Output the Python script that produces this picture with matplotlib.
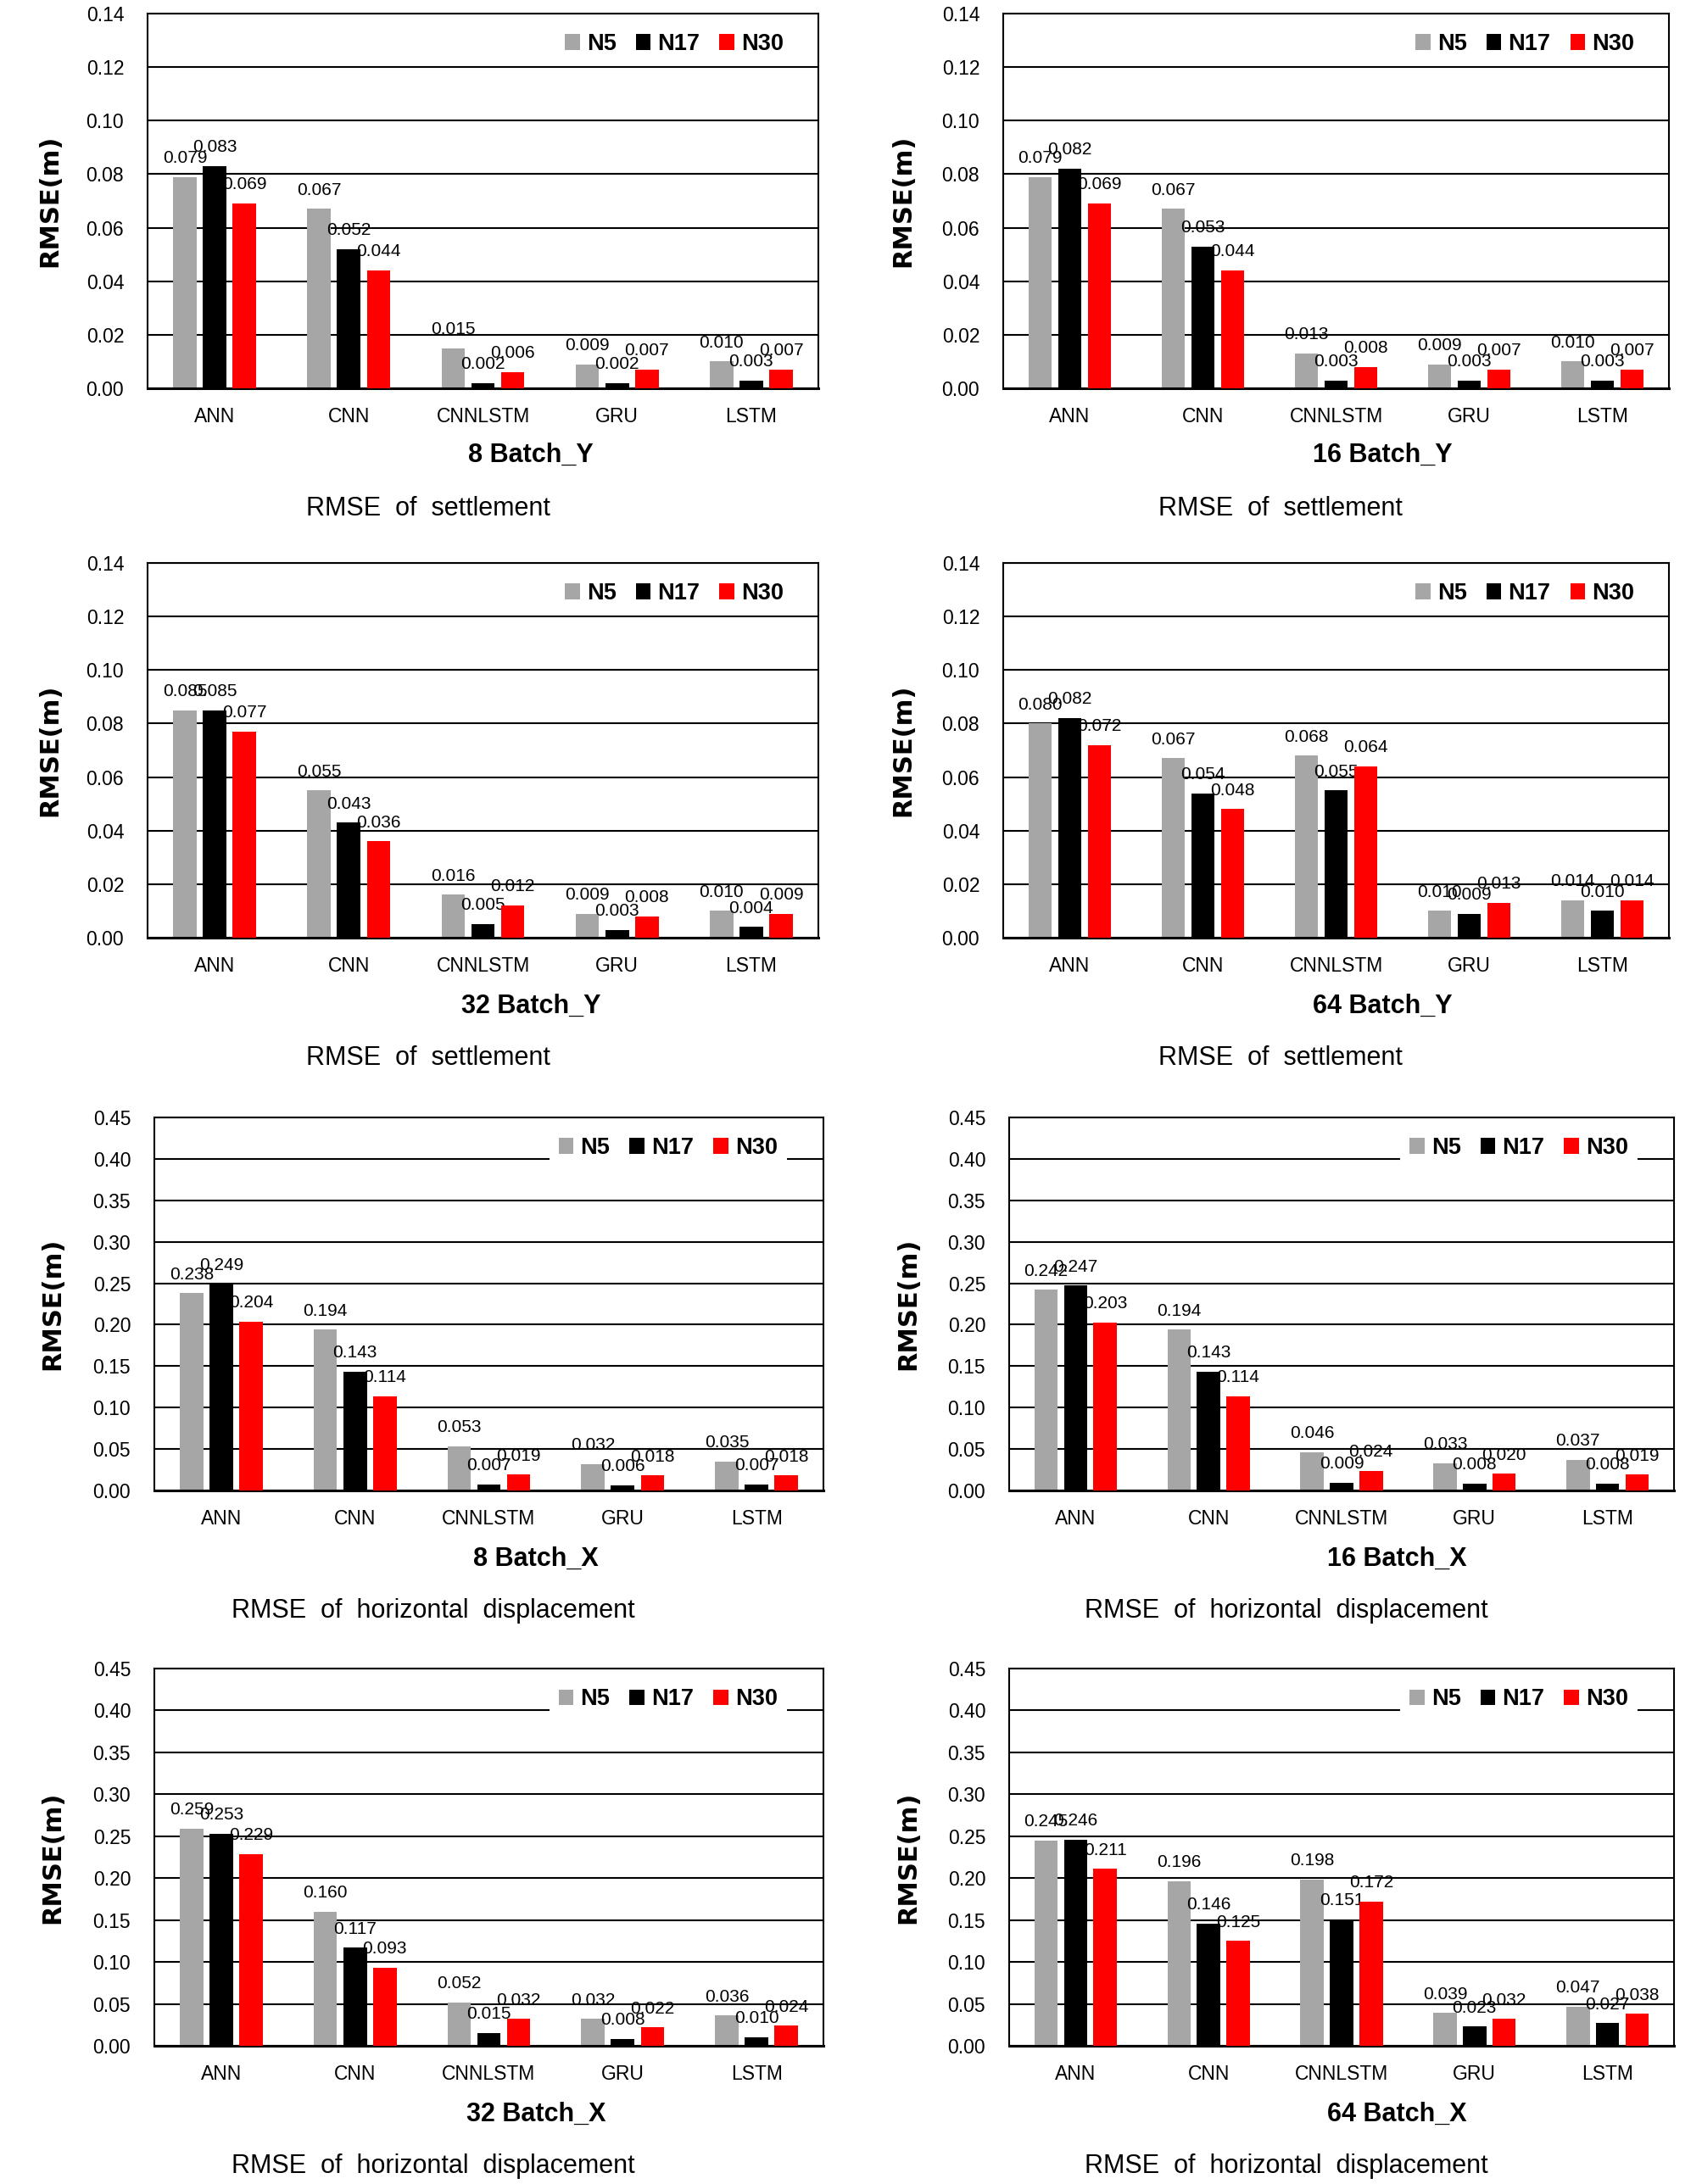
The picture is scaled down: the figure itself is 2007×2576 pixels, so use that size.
import matplotlib.pyplot as plt
import numpy as np

W, H = 2008, 2576

plt.rcParams["font.family"] = ["Liberation Sans", "DejaVu Sans"]

models = ["ANN", "CNN", "CNNLSTM", "GRU", "LSTM"]
series = ["N5", "N17", "N30"]
colors = ["#A6A6A6", "#000000", "#FF0000"]

# each panel: rows are N5, N17, N30; columns follow `models`
batch8_y = [[0.079, 0.067, 0.015, 0.009, 0.010],
            [0.083, 0.052, 0.002, 0.002, 0.003],
            [0.069, 0.044, 0.006, 0.007, 0.007]]
batch16_y = [[0.079, 0.067, 0.013, 0.009, 0.010],
             [0.082, 0.053, 0.003, 0.003, 0.003],
             [0.069, 0.044, 0.008, 0.007, 0.007]]
batch32_y = [[0.085, 0.055, 0.016, 0.009, 0.010],
             [0.085, 0.043, 0.005, 0.003, 0.004],
             [0.077, 0.036, 0.012, 0.008, 0.009]]
batch64_y = [[0.080, 0.067, 0.068, 0.010, 0.014],
             [0.082, 0.054, 0.055, 0.009, 0.010],
             [0.072, 0.048, 0.064, 0.013, 0.014]]
batch8_x = [[0.238, 0.194, 0.053, 0.032, 0.035],
            [0.249, 0.143, 0.007, 0.006, 0.007],
            [0.204, 0.114, 0.019, 0.018, 0.018]]
batch16_x = [[0.242, 0.194, 0.046, 0.033, 0.037],
             [0.247, 0.143, 0.009, 0.008, 0.008],
             [0.203, 0.114, 0.024, 0.020, 0.019]]
batch32_x = [[0.259, 0.160, 0.052, 0.032, 0.036],
             [0.253, 0.117, 0.015, 0.008, 0.010],
             [0.229, 0.093, 0.032, 0.022, 0.024]]
batch64_x = [[0.245, 0.196, 0.198, 0.039, 0.047],
             [0.246, 0.146, 0.151, 0.023, 0.027],
             [0.211, 0.125, 0.172, 0.032, 0.038]]

panels = [
    ("8 Batch_Y", batch8_y, "y", 0, 0),
    ("16 Batch_Y", batch16_y, "y", 0, 1),
    ("32 Batch_Y", batch32_y, "y", 1, 0),
    ("64 Batch_Y", batch64_y, "y", 1, 1),
    ("8 Batch_X", batch8_x, "x", 2, 0),
    ("16 Batch_X", batch16_x, "x", 2, 1),
    ("32 Batch_X", batch32_x, "x", 3, 0),
    ("64 Batch_X", batch64_x, "x", 3, 1),
]

# layout in pixels
cols_y = [(174, 965), (1183, 1968)]
cols_x = [(182, 971), (1190, 1974)]
rows = [(16, 458), (664, 1106), (1318, 1758), (1968, 2413)]
batch_ty = [537, 1187, 1839, 2494]
caption_ty = [600, 1248, 1900, 2555]
batch_tx = {"y": [626, 1630], "x": [632, 1647]}
caption_tx = {"y": [505, 1510], "x": [511, 1517]}
ylabel_tx = {"y": [59, 1065], "x": [62, 1071]}
captions = {"y": "RMSE  of  settlement", "x": "RMSE  of  horizontal  displacement"}

fig = plt.figure(figsize=(W / 100, H / 100), dpi=100)


def fx(px):
    return px / W


def fy(py):
    return 1 - py / H


for title, data, kind, r, c in panels:
    left, right = (cols_y if kind == "y" else cols_x)[c]
    top, bottom = rows[r]
    ax = fig.add_axes([fx(left), fy(bottom), (right - left) / W, (bottom - top) / H])

    x = np.arange(len(models))
    width = 0.175
    offsets = [-0.222, 0.0, 0.222]
    zorders = [2, 4, 4]
    for i, name in enumerate(series):
        vals = data[i]
        ax.bar(x + offsets[i], vals, width, color=colors[i], label=name,
               zorder=zorders[i])
        for xi, v in zip(x + offsets[i], vals):
            ax.annotate(f"{v:.3f}", (xi, v), xytext=(0, 16),
                        textcoords="offset points", ha="center", va="center",
                        fontsize=15, zorder=3)

    if kind == "y":
        ax.set_ylim(0, 0.14)
        ax.set_yticks(np.arange(0, 0.141, 0.02))
        leg_anchor = (0.962, 0.919)
    else:
        ax.set_ylim(0, 0.45)
        ax.set_yticks(np.arange(0, 0.451, 0.05))
        leg_anchor = (0.945, 0.918)
    ax.yaxis.set_major_formatter(plt.FormatStrFormatter("%.2f"))
    ax.set_xlim(-0.5, len(models) - 0.5)
    ax.set_xticks(x)
    ax.set_xticklabels(models)
    ax.tick_params(axis="both", length=0, labelsize=16.5)
    ax.tick_params(axis="y", pad=20)
    ax.tick_params(axis="x", pad=16)
    ax.grid(axis="y", color="black", linewidth=1.5, zorder=0.5)
    ax.set_axisbelow(True)
    for sp in ax.spines.values():
        sp.set_color("black")
        sp.set_linewidth(1.5)
    ax.spines["bottom"].set_linewidth(2.2)

    leg = ax.legend(loc="center right", bbox_to_anchor=leg_anchor, ncol=3,
                    frameon=True, fancybox=False, framealpha=1,
                    handlelength=0.65, handleheight=0.7, handletextpad=0.3,
                    columnspacing=0.85, borderpad=0.4, borderaxespad=0,
                    prop={"weight": "bold", "size": 19.5})
    leg.get_frame().set_edgecolor("none")
    leg.get_frame().set_facecolor("white")
    leg.set_zorder(10)

    fig.text(fx(ylabel_tx[kind][c]), fy((top + bottom) / 2), "RMSE(m)",
             rotation=90, ha="center", va="center", fontsize=22,
             fontweight="bold", family="DejaVu Sans")
    fig.text(fx(batch_tx[kind][c]), fy(batch_ty[r]), title, ha="center",
             va="center", fontsize=22, fontweight="bold")
    fig.text(fx(caption_tx[kind][c]), fy(caption_ty[r]), captions[kind],
             ha="center", va="center", fontsize=22)

fig.savefig("out.png", dpi=100, facecolor="white")
